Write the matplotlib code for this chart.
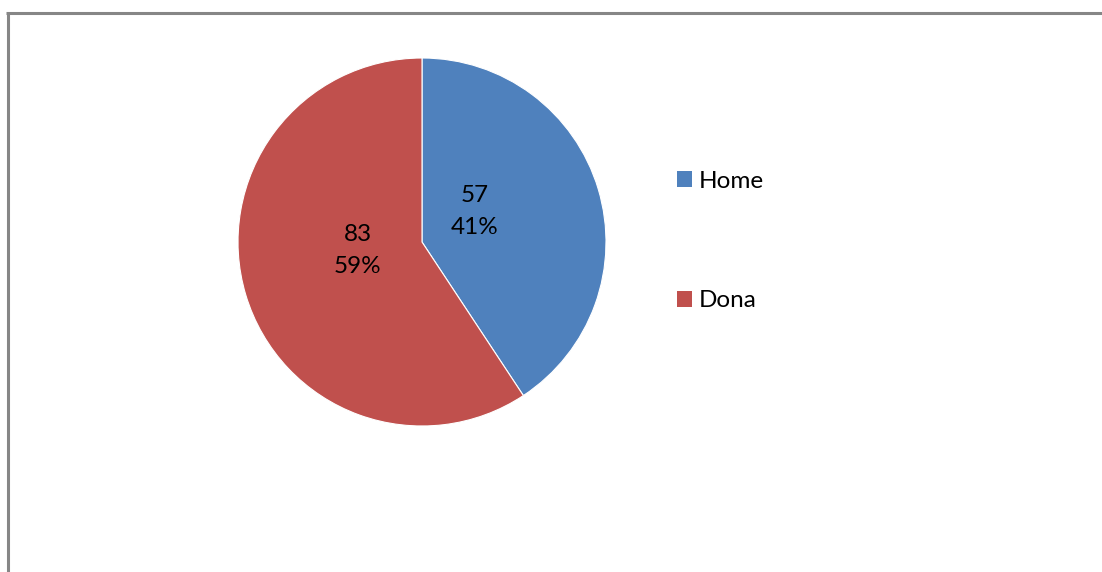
import matplotlib
matplotlib.use("Agg")
import matplotlib.pyplot as plt
from matplotlib.patches import Patch
from matplotlib.lines import Line2D

categories = ["Home", "Dona"]
values = [57, 83]
colors = ["#4F81BD", "#C0504D"]

plt.rcParams['font.family'] = ['Lato', 'DejaVu Sans']

W, H = 1102, 572
fig = plt.figure(figsize=(W / 100, H / 100), dpi=100)
fig.patch.set_facecolor("white")

# chart-area frame (only top and left edges fall inside the canvas)
frame_col = "#868686"
fig.add_artist(Line2D([7.5 / W, 7.5 / W], [0, 1 - 12.5 / H], transform=fig.transFigure,
                      color=frame_col, lw=2.2, solid_capstyle="butt"))
fig.add_artist(Line2D([6.4 / W, 1], [1 - 12.5 / H, 1 - 12.5 / H], transform=fig.transFigure,
                      color=frame_col, lw=2.2, solid_capstyle="butt"))

cx, cy, r = 422, 242, 184
ax = fig.add_axes([(cx - r) / W, (H - cy - r) / H, 2 * r / W, 2 * r / H])
wedges, _ = ax.pie(values, colors=colors, startangle=90, counterclock=False, radius=1,
                   wedgeprops=dict(edgecolor="white", linewidth=0.8))
ax.set_xlim(-1, 1)
ax.set_ylim(-1, 1)
ax.set_aspect("equal")
ax.axis("off")

total = sum(values)
label_pos = [(0.288, 0.165), (-0.348, -0.045)]
for v, (x, y) in zip(values, label_pos):
    ax.text(x, y, f"{v}\n{round(100 * v / total)}%", ha="center", va="center",
            fontsize=17.5, linespacing=1.65, color="black")

handles = [Patch(facecolor=c, edgecolor="none") for c in colors]
fig.legend(handles, categories, loc="upper left", bbox_to_anchor=(667 / W, 1 - 161 / H),
           frameon=False, fontsize=17.5, handlelength=0.62, handleheight=0.62,
           handletextpad=0.3, labelspacing=4.06, borderaxespad=0)

fig.savefig("out.png", dpi=100, facecolor="white")
